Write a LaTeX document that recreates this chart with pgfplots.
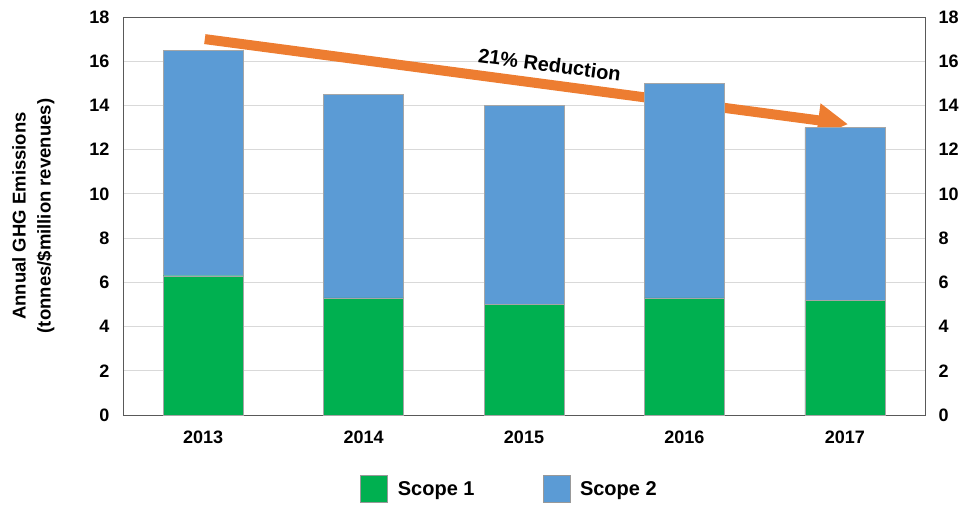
\documentclass[border=0pt]{standalone}
\usepackage{pgfplots}
\pgfplotsset{compat=1.18}
\usepackage{fontspec}
\setmainfont{Liberation Sans}
\usetikzlibrary{arrows.meta}
\definecolor{sgreen}{HTML}{00B050}
\definecolor{sblue}{HTML}{5B9BD5}
\definecolor{sorange}{HTML}{ED7D31}
\begin{document}
\begin{tikzpicture}
\begin{axis}[
  scale only axis, width=802pt, height=398pt,
  ybar stacked, bar width=80pt,
  xmin=-0.5, xmax=4.5, ymin=0, ymax=18,
  xtick={0,1,2,3,4}, xticklabels={2013,2014,2015,2016,2017},
  ytick={0,2,...,18},
  major tick length=0pt,
  ymajorgrids, grid style={draw=black!15, line width=0.8pt},
  axis line style={draw=black!65, line width=0.8pt},
  /pgf/number format/assume math mode=true,
  tick label style={font=\bfseries\fontsize{18}{18}\selectfont},
  yticklabel style={xshift=-10pt},
  xticklabel style={yshift=-12pt},
  ylabel={Annual GHG Emissions\\(tonnes/\$million revenues)},
  ylabel style={align=center, font=\bfseries\fontsize{18.5}{25}\selectfont},
  ylabel shift=28pt,
  legend style={at={(0.482,-0.146)}, anchor=north, draw=none, legend columns=2,
    font=\bfseries\fontsize{20}{20}\selectfont,
    /tikz/every even column/.append style={column sep=66pt}},
  legend image code/.code={\draw[#1, draw=black!40, line width=0.5pt] (0pt,-13.5pt) rectangle (27pt,13.5pt); \path (35pt,0pt);},
]
\addplot[fill=sgreen, draw=black!35, line width=0.4pt] coordinates {(0,6.3) (1,5.3) (2,5.0) (3,5.3) (4,5.2)};
\addplot[fill=sblue, draw=black!35, line width=0.4pt] coordinates {(0,10.2) (1,9.2) (2,9.0) (3,9.7) (4,7.8)};
\legend{Scope 1, Scope 2}
\draw[sorange, line width=10pt, -{Triangle[length=30pt,width=32pt]}] (axis cs:0.01,17.0) -- (axis cs:4.02,13.15);
\node[rotate=-7.5, font=\bfseries\fontsize{20}{20}\selectfont] at (axis cs:2.16,15.84) {21\% Reduction};
\coordinate (sw) at (rel axis cs:0,0);
\coordinate (ne) at (rel axis cs:1,1);
\end{axis}
\begin{axis}[
  scale only axis, width=802pt, height=398pt,
  xmin=-0.5, xmax=4.5, ymin=0, ymax=18,
  axis x line=none, axis y line*=right,
  ytick={0,2,...,18}, major tick length=0pt,
  axis line style={draw=black!65, line width=0.8pt},
  /pgf/number format/assume math mode=true,
  tick label style={font=\bfseries\fontsize{18}{18}\selectfont},
  yticklabel style={xshift=10pt},
]
\addplot[draw=none] coordinates {(0,0)};
\end{axis}
\pgfresetboundingbox
\path[use as bounding box] ([shift={(-123pt,-89pt)}]sw) rectangle ([shift={(36pt,17pt)}]ne);
\end{tikzpicture}
\end{document}
